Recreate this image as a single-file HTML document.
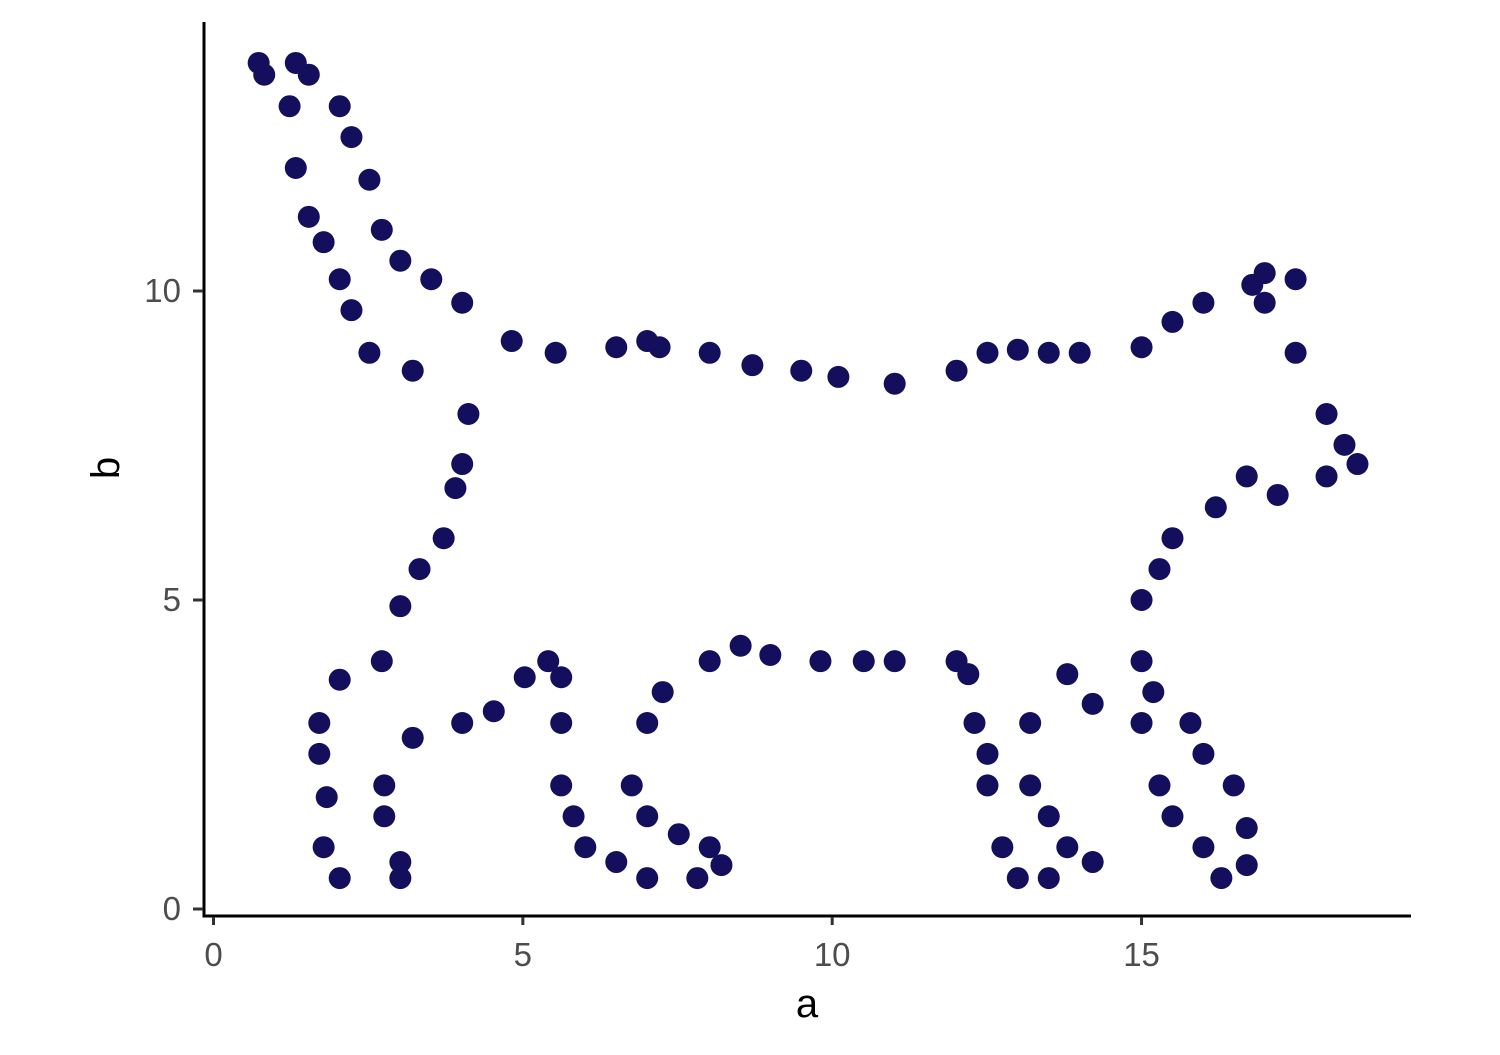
<!DOCTYPE html>
<html><head><meta charset="utf-8"><style>body{margin:0;background:#fff}svg text{font-family:"Liberation Sans",sans-serif}</style></head>
<body>
<svg id="chart" width="1500" height="1050" xmlns="http://www.w3.org/2000/svg"></svg>
<script>
const aVals=[0.73,0.82,1.33,1.54,1.23,2.04,2.23,1.33,2.52,1.54,1.78,2.72,2.04,3.02,3.52,2.23,4.02,2.52,3.22,4.12,4.02,3.91,3.72,3.33,3.02,2.72,2.04,1.71,1.71,1.83,1.78,2.04,2.76,2.76,3.02,3.02,3.22,4.02,4.53,5.03,5.41,5.62,5.62,5.62,5.82,6.01,6.51,7.01,7.01,6.76,7.01,7.26,7.52,7.82,8.02,8.21,8.02,8.52,9.0,9.81,10.51,11.01,12.01,12.2,12.3,12.51,12.51,12.75,13.0,13.5,13.2,13.2,13.5,13.8,14.21,13.8,14.21,15.0,15.0,15.0,15.19,15.29,15.5,15.29,15.5,15.79,16.0,16.0,16.29,16.49,16.7,16.7,16.2,16.7,17.2,17.99,17.99,18.28,18.49,17.49,17.49,16.99,16.99,16.79,16.0,15.5,15.0,14.0,13.5,13.0,12.51,12.01,11.01,10.1,9.5,8.71,8.02,7.21,7.01,6.51,5.53,4.82];
const bVals=[13.69,13.5,13.69,13.5,12.99,12.99,12.49,11.99,11.8,11.2,10.79,10.99,10.19,10.49,10.19,9.69,9.81,9.0,8.71,8.01,7.2,6.81,6.0,5.5,4.9,4.01,3.71,3.01,2.51,1.81,1.0,0.5,2.0,1.5,0.76,0.5,2.77,3.01,3.2,3.75,4.01,3.75,3.01,2.0,1.5,1.0,0.76,0.5,1.5,2.0,3.01,3.51,1.21,0.5,1.0,0.71,4.01,4.26,4.11,4.01,4.01,4.01,4.01,3.8,3.01,2.51,2.0,1.0,0.5,0.5,2.0,3.01,1.5,1.0,0.76,3.8,3.32,3.01,4.01,5.0,3.51,5.5,6.0,2.0,1.5,3.01,2.51,1.0,0.5,2.0,1.31,0.71,6.5,7.0,6.7,7.0,8.01,7.51,7.2,9.0,10.19,9.81,10.29,10.1,9.81,9.5,9.09,9.0,9.0,9.05,9.0,8.71,8.5,8.61,8.71,8.8,9.0,9.09,9.19,9.09,9.0,9.19];
const xTicks=[0,5,10,15];
const yTicks=[0,5,10];
const NS="http://www.w3.org/2000/svg";
const svg=document.getElementById('chart');
const X=v=>213.5+v*61.87;
const Y=v=>909-v*61.8;
function el(t,at){const e=document.createElementNS(NS,t);for(const k in at)e.setAttribute(k,at[k]);svg.appendChild(e);return e;}
for(let i=0;i<aVals.length;i++){
 const c=el('circle',{cx:X(aVals[i]),cy:Y(bVals[i]),r:11,fill:'#140f5c'});
 
 
}
const ya=el('line',{x1:204,y1:22,x2:204,y2:917.5,stroke:'#000','stroke-width':3});


const xa=el('line',{x1:202.5,y1:916,x2:1411,y2:916,stroke:'#000','stroke-width':3});


xTicks.forEach(t=>{
 const l=el('line',{x1:X(t),y1:917,x2:X(t),y2:925,stroke:'#333','stroke-width':3});
 
 
 const tx=el('text',{x:X(t),y:966,'text-anchor':'middle','font-size':33,fill:'#4d4d4d'});
 tx.textContent=t;
 
 
});
yTicks.forEach(t=>{
 const l=el('line',{x1:193,y1:Y(t),x2:203,y2:Y(t),stroke:'#333','stroke-width':3});
 
 
 const tx=el('text',{x:181,y:Y(t)+11,'text-anchor':'end','font-size':33,fill:'#4d4d4d'});
 tx.textContent=t;
 
 
});
const xt=el('text',{x:807,y:1017,'text-anchor':'middle','font-size':40,fill:'#000'});
xt.textContent='a';


const yt=el('text',{x:0,y:0,'text-anchor':'middle','font-size':40,fill:'#000',transform:'translate(119,468) rotate(-90)'});
yt.textContent='b';


</script>
</body></html>
